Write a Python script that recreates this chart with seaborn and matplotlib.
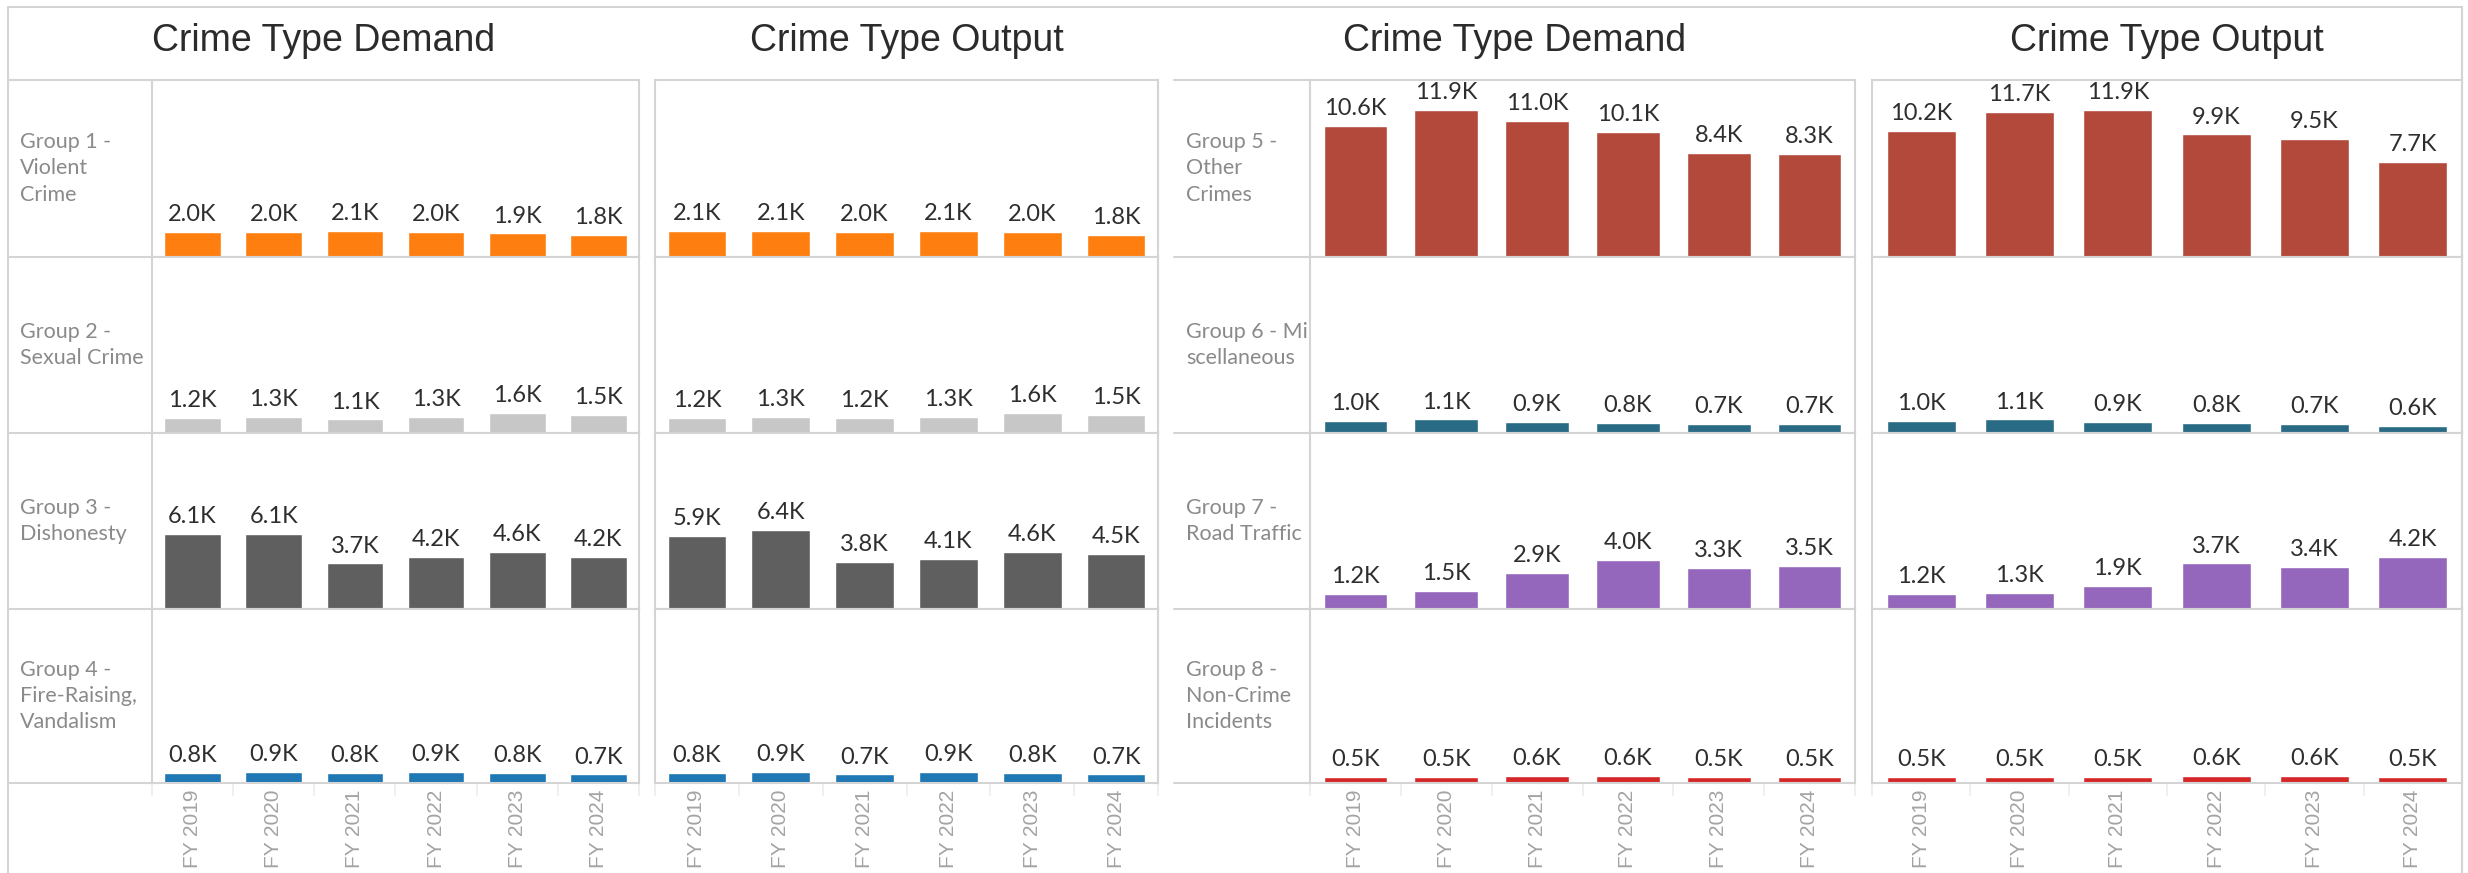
import pandas as pd
import numpy as np
import seaborn as sns
import matplotlib.pyplot as plt
from matplotlib.lines import Line2D

# values in thousands
years = ['FY 2019', 'FY 2020', 'FY 2021', 'FY 2022', 'FY 2023', 'FY 2024']

groups_left = ['Group 1 -\nViolent\nCrime', 'Group 2 -\nSexual Crime',
               'Group 3 -\nDishonesty', 'Group 4 -\nFire-Raising,\nVandalism']
groups_right = ['Group 5 -\nOther\nCrimes', 'Group 6 - Mi\nscellaneous',
                'Group 7 -\nRoad Traffic', 'Group 8 -\nNon-Crime\nIncidents']

demand_g1 = [2.0, 2.0, 2.1, 2.0, 1.9, 1.8]
demand_g2 = [1.2, 1.3, 1.1, 1.3, 1.6, 1.5]
demand_g3 = [6.1, 6.1, 3.7, 4.2, 4.6, 4.2]
demand_g4 = [0.8, 0.9, 0.8, 0.9, 0.8, 0.7]
demand_g5 = [10.6, 11.9, 11.0, 10.1, 8.4, 8.3]
demand_g6 = [1.0, 1.1, 0.9, 0.8, 0.7, 0.7]
demand_g7 = [1.2, 1.5, 2.9, 4.0, 3.3, 3.5]
demand_g8 = [0.5, 0.5, 0.6, 0.6, 0.5, 0.5]

output_g1 = [2.1, 2.1, 2.0, 2.1, 2.0, 1.8]
output_g2 = [1.2, 1.3, 1.2, 1.3, 1.6, 1.5]
output_g3 = [5.9, 6.4, 3.8, 4.1, 4.6, 4.5]
output_g4 = [0.8, 0.9, 0.7, 0.9, 0.8, 0.7]
output_g5 = [10.2, 11.7, 11.9, 9.9, 9.5, 7.7]
output_g6 = [1.0, 1.1, 0.9, 0.8, 0.7, 0.6]
output_g7 = [1.2, 1.3, 1.9, 3.7, 3.4, 4.2]
output_g8 = [0.5, 0.5, 0.5, 0.6, 0.6, 0.5]

colors_left = ['#fe7f10', '#c7c7c7', '#5f5f5f', '#1f77b4']
colors_right = ['#b3493a', '#296a84', '#9467bd', '#d62728']

demand = [demand_g1, demand_g2, demand_g3, demand_g4,
          demand_g5, demand_g6, demand_g7, demand_g8]
output = [output_g1, output_g2, output_g3, output_g4,
          output_g5, output_g6, output_g7, output_g8]
group_names = groups_left + groups_right

rows = []
for gi, g in enumerate(group_names):
    for yi, y in enumerate(years):
        rows.append({'group': g, 'year': y, 'measure': 'Demand', 'value': demand[gi][yi]})
        rows.append({'group': g, 'year': y, 'measure': 'Output', 'value': output[gi][yi]})
df = pd.DataFrame(rows)

sns.set_style('white')
plt.rcParams['font.family'] = ['Lato', 'DejaVu Sans']

W, H = 2468, 873
fig = plt.figure(figsize=(W / 100, H / 100), dpi=100)

LINE = '#d4d4d4'


def fx(px):
    return px / W


def fy(py):
    return 1 - py / H


def hline(x0, x1, y, color=LINE, lw=1.5):
    fig.add_artist(Line2D([fx(x0), fx(x1)], [fy(y), fy(y)], color=color, lw=lw))


def vline(x, y0, y1, color=LINE, lw=1.5):
    fig.add_artist(Line2D([fx(x), fx(x)], [fy(y0), fy(y1)], color=color, lw=lw))


row_edges = [80, 257, 433, 609, 783]

panels = [
    # block left, label col right, (demand x0, x1), (output x0, x1), groups, colors
    (8, 152, (152, 639), (655, 1158), groups_left, colors_left),
    (1174, 1310, (1310, 1855), (1872, 2462), groups_right, colors_right),
]

# outer frame
hline(8, 2462, 7)
vline(8, 7, 873)
vline(2462, 7, 873)

for block_x, lab_x, dem_x, out_x, groups, cols in panels:
    # titles
    fig.text(fx((block_x + dem_x[1]) / 2), fy(41), 'Crime Type Demand',
             ha='center', va='center', fontsize=27, color='#2b2b2b',
             family='Liberation Sans')
    fig.text(fx((out_x[0] + out_x[1]) / 2), fy(41), 'Crime Type Output',
             ha='center', va='center', fontsize=27, color='#2b2b2b',
             family='Liberation Sans')

    # label column lines
    for e in row_edges:
        hline(block_x, lab_x, e)

    for r, (g, c) in enumerate(zip(groups, cols)):
        y0, y1 = row_edges[r], row_edges[r + 1]
        fig.text(fx(block_x + 12), fy((y0 + y1) / 2), g, ha='left', va='center',
                 fontsize=15.5, color='#8a8a8a', linespacing=1.4)

        for measure, (x0, x1) in [('Demand', dem_x), ('Output', out_x)]:
            ax = fig.add_axes([fx(x0), fy(y1), (x1 - x0) / W, (y1 - y0) / H])
            sub = df[(df['group'] == g) & (df['measure'] == measure)]
            sns.barplot(data=sub, x='year', y='value', order=years, color=c,
                        saturation=1, width=0.7, ax=ax)
            ax.bar_label(ax.containers[0],
                         labels=[f'{v:.1f}K' for v in sub['value']],
                         padding=5, fontsize=17, color='#2e2e2e')
            ax.set_ylim(0, 14.3)
            ax.set_xlim(-0.5, 5.5)
            ax.set_xlabel('')
            ax.set_ylabel('')
            ax.set_yticks([])
            for s in ax.spines.values():
                s.set_color(LINE)
                s.set_linewidth(1.5)
            ax.set_xticks(np.arange(-0.5, 6, 1), minor=True)
            ax.tick_params(axis='x', which='minor', length=9, color='#ececec',
                           width=1.2, bottom=(r == 3))
            if r == 3:
                ax.set_xticks(range(len(years)))
                ax.set_xticklabels(years, rotation=90, fontsize=15,
                                   color='#a3a3a3', family='Liberation Sans')
                ax.tick_params(axis='x', which='major', length=0, pad=5)
            else:
                ax.set_xticks([])

fig.savefig('out.png', dpi=100)
